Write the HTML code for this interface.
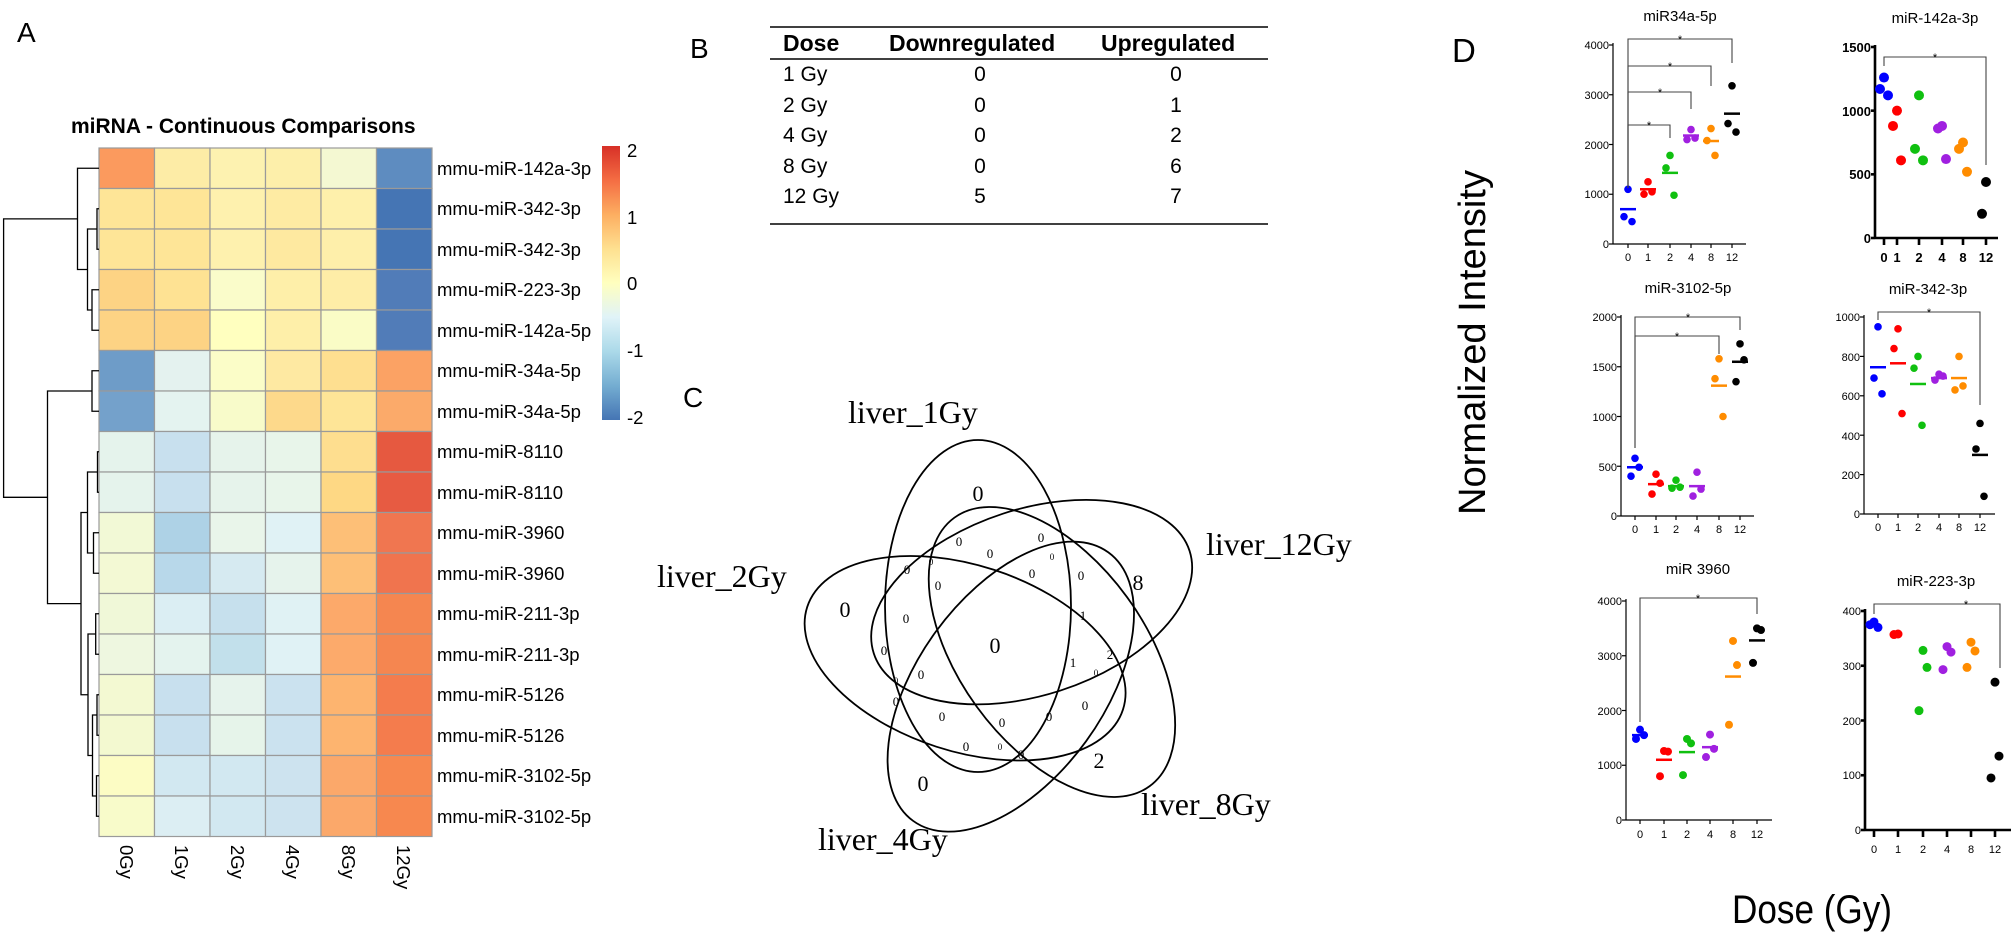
<!DOCTYPE html>
<html><head><meta charset="utf-8"><style>
html,body{margin:0;padding:0;background:#fff;}
svg{display:block;}
.s{font-family:"Liberation Sans",Arial,sans-serif;}
.r{font-family:"Liberation Serif","Times New Roman",serif;}
</style></head><body>
<svg id="m" width="2011" height="937" viewBox="0 0 2011 937" xmlns="http://www.w3.org/2000/svg">
<defs>
<linearGradient id="cb" x1="0" y1="1" x2="0" y2="0">
<stop offset="0" stop-color="#4575b4"/><stop offset="0.125" stop-color="#74add1"/><stop offset="0.25" stop-color="#abd9e9"/><stop offset="0.375" stop-color="#e0f3f8"/><stop offset="0.5" stop-color="#ffffbf"/><stop offset="0.625" stop-color="#fee090"/><stop offset="0.75" stop-color="#fdae61"/><stop offset="0.875" stop-color="#f46d43"/><stop offset="1" stop-color="#d73027"/>
</linearGradient>
</defs>
<!-- Panel A -->
<text class="s" x="17" y="42" font-size="28">A</text>
<text class="s" x="71" y="133" font-size="21" font-weight="bold">miRNA - Continuous Comparisons</text>
<g id="heat"></g>
<g id="dendro" stroke="#000" stroke-width="1.3" fill="none"></g>
<g class="s" font-size="18.5" fill="#000">
<text x="437" y="175">mmu-miR-142a-3p</text>
<text x="437" y="215">mmu-miR-342-3p</text>
<text x="437" y="256">mmu-miR-342-3p</text>
<text x="437" y="296">mmu-miR-223-3p</text>
<text x="437" y="337">mmu-miR-142a-5p</text>
<text x="437" y="377">mmu-miR-34a-5p</text>
<text x="437" y="418">mmu-miR-34a-5p</text>
<text x="437" y="458">mmu-miR-8110</text>
<text x="437" y="499">mmu-miR-8110</text>
<text x="437" y="539">mmu-miR-3960</text>
<text x="437" y="580">mmu-miR-3960</text>
<text x="437" y="620">mmu-miR-211-3p</text>
<text x="437" y="661">mmu-miR-211-3p</text>
<text x="437" y="701">mmu-miR-5126</text>
<text x="437" y="742">mmu-miR-5126</text>
<text x="437" y="782">mmu-miR-3102-5p</text>
<text x="437" y="823">mmu-miR-3102-5p</text>
</g>
<g class="s" font-size="18.5">
<text transform="translate(120,845) rotate(90)">0Gy</text>
<text transform="translate(175,845) rotate(90)">1Gy</text>
<text transform="translate(231,845) rotate(90)">2Gy</text>
<text transform="translate(286,845) rotate(90)">4Gy</text>
<text transform="translate(342,845) rotate(90)">8Gy</text>
<text transform="translate(397,845) rotate(90)">12Gy</text>
</g>
<rect x="602" y="146" width="18" height="274" fill="url(#cb)"/>
<g class="s" font-size="18.5">
<text x="627" y="157">2</text><text x="627" y="224">1</text><text x="627" y="290">0</text><text x="627" y="357">-1</text><text x="627" y="424">-2</text>
</g>

<!-- Panel B -->
<text class="s" x="690" y="58" font-size="28">B</text>
<g stroke="#000" stroke-width="1.6"><line x1="770" y1="27" x2="1268" y2="27"/><line x1="770" y1="59" x2="1268" y2="59"/><line x1="770" y1="224" x2="1268" y2="224"/></g>
<g class="s" font-size="23" font-weight="bold"><text x="783" y="51">Dose</text><text x="889" y="51">Downregulated</text><text x="1101" y="51">Upregulated</text></g>
<g class="s" font-size="21">
<text x="783" y="81">1 Gy</text><text x="783" y="112">2 Gy</text><text x="783" y="142">4 Gy</text><text x="783" y="173">8 Gy</text><text x="783" y="203">12 Gy</text>
</g>
<g class="s" font-size="21" text-anchor="middle">
<text x="980" y="81">0</text><text x="980" y="112">0</text><text x="980" y="142">0</text><text x="980" y="173">0</text><text x="980" y="203">5</text>
<text x="1176" y="81">0</text><text x="1176" y="112">1</text><text x="1176" y="142">2</text><text x="1176" y="173">6</text><text x="1176" y="203">7</text>
</g>

<!-- Panel C -->
<text class="s" x="683" y="407" font-size="28">C</text>
<g fill="none" stroke="#000" stroke-width="1.8">
<ellipse cx="978" cy="606" rx="93" ry="166"/>
<ellipse cx="978" cy="606" rx="93" ry="166" transform="rotate(72 1007.5 641)"/>
<ellipse cx="978" cy="606" rx="93" ry="166" transform="rotate(144 1007.5 641)"/>
<ellipse cx="978" cy="606" rx="93" ry="166" transform="rotate(216 1007.5 641)"/>
<ellipse cx="978" cy="606" rx="93" ry="166" transform="rotate(288 1007.5 641)"/>
</g>
<g class="r" font-size="32">
<text x="848" y="423">liver_1Gy</text><text x="657" y="587">liver_2Gy</text><text x="1206" y="555">liver_12Gy</text><text x="1141" y="815">liver_8Gy</text><text x="818" y="850">liver_4Gy</text>
</g>
<g class="r" font-size="22" text-anchor="middle">
<text x="978" y="501">0</text><text x="1138" y="590">8</text><text x="845" y="617">0</text><text x="995" y="653">0</text><text x="1099" y="768">2</text><text x="923" y="791">0</text>
</g>
<g class="r" font-size="13" text-anchor="middle">
<text x="959" y="546">0</text><text x="1041" y="542">0</text><text x="990" y="558">0</text><text x="907" y="574">0</text><text x="1032" y="578">0</text><text x="1081" y="580">0</text><text x="938" y="590">0</text><text x="906" y="623">0</text><text x="1083" y="620">1</text><text x="884" y="655">0</text><text x="1110" y="659">2</text><text x="1073" y="667">1</text><text x="921" y="679">0</text><text x="896" y="706">0</text><text x="1085" y="710">0</text><text x="942" y="721">0</text><text x="1002" y="727">0</text><text x="1049" y="721">0</text><text x="966" y="751">0</text><text x="1021" y="759">0</text>
</g>
<g class="r" font-size="9" text-anchor="middle">
<text x="1052" y="560">0</text><text x="931" y="565">0</text><text x="1096" y="676">0</text><text x="896" y="684">0</text><text x="1000" y="750">0</text>
</g>

<!-- Panel D -->
<text class="s" x="1452" y="62" font-size="33">D</text>
<text class="s" font-size="38" transform="translate(1485,515) rotate(-90)" textLength="345" lengthAdjust="spacingAndGlyphs">Normalized Intensity</text>
<text class="s" x="1732" y="923" font-size="40" textLength="160" lengthAdjust="spacingAndGlyphs">Dose (Gy)</text>
<g class="s" font-size="15" text-anchor="middle">
<text x="1680" y="21">miR34a-5p</text><text x="1935" y="23">miR-142a-3p</text>
<text x="1688" y="293">miR-3102-5p</text><text x="1928" y="294">miR-342-3p</text>
<text x="1698" y="574">miR 3960</text><text x="1936" y="586">miR-223-3p</text>
</g>
<g id="plots"></g>
<g class="s" font-size="11" text-anchor="end">
<text x="1609" y="49">4000</text><text x="1609" y="99">3000</text><text x="1609" y="149">2000</text><text x="1609" y="198">1000</text><text x="1609" y="248">0</text>
<text x="1617" y="321">2000</text><text x="1617" y="371">1500</text><text x="1617" y="421">1000</text><text x="1617" y="471">500</text><text x="1617" y="520">0</text>
<text x="1860" y="321">1000</text><text x="1860" y="361">800</text><text x="1860" y="400">600</text><text x="1860" y="440">400</text><text x="1860" y="479">200</text><text x="1860" y="518">0</text>
<text x="1622" y="605">4000</text><text x="1622" y="660">3000</text><text x="1622" y="715">2000</text><text x="1622" y="769">1000</text><text x="1622" y="824">0</text>
<text x="1861" y="615">400</text><text x="1861" y="670">300</text><text x="1861" y="725">200</text><text x="1861" y="779">100</text><text x="1861" y="834">0</text>
</g>
<g class="s" font-size="13" font-weight="bold" text-anchor="end">
<text x="1871" y="52">1500</text><text x="1871" y="116">1000</text><text x="1871" y="179">500</text><text x="1871" y="243">0</text>
</g>
<g class="s" font-size="11" text-anchor="middle">
<text x="1628" y="261">0</text><text x="1648" y="261">1</text><text x="1670" y="261">2</text><text x="1691" y="261">4</text><text x="1711" y="261">8</text><text x="1732" y="261">12</text>
<text x="1635" y="533">0</text><text x="1656" y="533">1</text><text x="1676" y="533">2</text><text x="1697" y="533">4</text><text x="1719" y="533">8</text><text x="1740" y="533">12</text>
<text x="1878" y="531">0</text><text x="1898" y="531">1</text><text x="1918" y="531">2</text><text x="1939" y="531">4</text><text x="1959" y="531">8</text><text x="1980" y="531">12</text>
<text x="1640" y="838">0</text><text x="1664" y="838">1</text><text x="1687" y="838">2</text><text x="1710" y="838">4</text><text x="1733" y="838">8</text><text x="1757" y="838">12</text>
<text x="1874" y="853">0</text><text x="1898" y="853">1</text><text x="1923" y="853">2</text><text x="1947" y="853">4</text><text x="1971" y="853">8</text><text x="1995" y="853">12</text>
</g>
<g class="s" font-size="13" font-weight="bold" text-anchor="middle">
<text x="1884" y="262">0</text><text x="1897" y="262">1</text><text x="1919" y="262">2</text><text x="1942" y="262">4</text><text x="1963" y="262">8</text><text x="1986" y="262">12</text>
</g>
<g class="s" font-size="11" text-anchor="middle">
<text x="1680" y="43">*</text><text x="1670" y="70">*</text><text x="1660" y="96">*</text><text x="1649" y="129">*</text>
<text x="1935" y="61">*</text>
<text x="1688" y="321">*</text><text x="1677" y="340">*</text>
<text x="1929" y="316">*</text>
<text x="1698" y="602">*</text>
<text x="1966" y="608">*</text>
</g>
</svg>
<script>
(function(){
var NS="http://www.w3.org/2000/svg";
function el(p,t,a){var e=document.createElementNS(NS,t);for(var k in a)e.setAttribute(k,a[k]);p.appendChild(e);return e;}
var H=[["#fb9a5e","#fdeca6","#fdf2b0","#fdefaa","#f4f8d2","#5e8cc0"],
["#fee597","#fee597","#fef1ae","#feeba3","#fef0ab","#4575b4"],
["#fee597","#fee597","#fef1ae","#fee9a0","#feefaa","#4575b4"],
["#fdd384","#fee293","#fafcca","#feefa9","#feeda7","#517cb8"],
["#fdd384","#fdd384","#ffffbf","#feefa9","#fafcc6","#517cb8"],
["#6e9cc8","#e4f2ef","#fbfdc8","#fee9a2","#fedf90","#fba264"],
["#74a1cb","#e4f3f0","#f8fbca","#fdd98b","#fee597","#fbaa6a"],
["#e5f3ec","#c8e0ee","#e6f3eb","#e8f5ea","#fede8f","#e65940"],
["#e5f3ec","#c8e0ee","#e6f3eb","#e8f5ea","#fed884","#e75b42"],
["#f2f9d6","#aed2e6","#e9f5ea","#e0f2f5","#fdbf77","#f07650"],
["#f3f9d4","#b8d8ea","#d6eaf1","#e6f3ec","#fdbf77","#f0744e"],
["#f0f8d8","#dbeef3","#c6e0ed","#e0f2f4","#fca96a","#f58650"],
["#eef7e0","#e4f3ee","#c2e0eb","#e0f2f5","#fcaa6b","#f58650"],
["#f3f9d2","#c8e0ee","#e6f3ec","#cbe2ef","#fdb46f","#f47c4d"],
["#f3f9d0","#c8e0ee","#e6f4ea","#cbe2ef","#fdb46f","#f47c4d"],
["#fcfcc4","#d2e8f1","#d2e8f1","#cde3ef","#fba86a","#f7884f"],
["#f8fbca","#dceef3","#d2e8f1","#cde3ef","#fba86a","#f7884f"]];
var g=document.getElementById("heat"),x0=99,y0=148,cw=55.5,rh=40.5;
for(var i=0;i<17;i++)for(var j=0;j<6;j++)el(g,"rect",{x:x0+j*cw,y:y0+i*rh,width:cw,height:rh,fill:H[i][j],stroke:"#9a9a9a","stroke-width":1.2});
var d=document.getElementById("dendro");
function yc(i){return y0+rh*(i-0.5);}
function link(xa,ya,xb,yb,xj){el(d,"path",{d:"M"+xa+" "+ya+"H"+xj+"V"+yb+"H"+xb});return (ya+yb)/2;}
var L=99;
var n23=link(L,yc(2),L,yc(3),97);
var n45=link(L,yc(4),L,yc(5),92);
var n25=link(97,n23,92,n45,87.5);
var n15=link(L,yc(1),87.5,n25,77.5);
var n67=link(L,yc(6),L,yc(7),92);
var n89=link(L,yc(8),L,yc(9),97.5);
var n1011=link(L,yc(10),L,yc(11),93.5);
var n1213=link(L,yc(12),L,yc(13),95.7);
var n1415=link(L,yc(14),L,yc(15),97);
var n1617=link(L,yc(16),L,yc(17),96.5);
var n1417=link(97,n1415,96.5,n1617,92.5);
var n1217=link(95.7,n1213,92.5,n1417,88);
var n811=link(97.5,n89,93.5,n1011,87.5);
var n817=link(87.5,n811,88,n1217,81);
var n617=link(92,n67,81,n817,47.5);
link(77.5,n15,47.5,n617,3.6);
var P=document.getElementById("plots");
var C=["#0000ff","#ff0000","#10c010","#a020e0","#ff8c00","#000000"];
function plot(o){
 var sw=o.bold?2.6:1.2;
 var yA=function(v){return o.y0-(v/o.vmax)*(o.y0-o.yT);};
 el(P,"line",{x1:o.ax,y1:o.yT-2,x2:o.ax,y2:o.y0,stroke:"#000","stroke-width":sw});
 el(P,"line",{x1:o.ax,y1:o.y0,x2:o.xe,y2:o.y0,stroke:"#000","stroke-width":sw});
 for(var k=0;k<=o.nt;k++){var yy=yA(o.vmax*k/o.nt);el(P,"line",{x1:o.ax-4,y1:yy,x2:o.ax,y2:yy,stroke:"#000","stroke-width":sw});}
 o.tx.forEach(function(x){el(P,"line",{x1:x,y1:o.y0,x2:x,y2:o.y0+(o.bold?7:4),stroke:"#000","stroke-width":sw});});
 o.data.forEach(function(arr,gi){var off=[0,-4,4];arr.forEach(function(v,pi){el(P,"circle",{cx:o.tx[gi]+(arr.length>1?off[pi%3]:0),cy:yA(v),r:o.r,fill:C[gi]});});
  if(o.means&&o.means[gi]!=null){var m=yA(o.means[gi]);el(P,"line",{x1:o.tx[gi]-8,y1:m,x2:o.tx[gi]+8,y2:m,stroke:C[gi],"stroke-width":2.5});}});
 (o.br||[]).forEach(function(b){el(P,"path",{d:"M"+b[0]+" "+b[3]+"V"+b[2]+"H"+b[1]+"V"+b[4],fill:"none",stroke:"#444","stroke-width":1.1});});
}
plot({ax:1613,yT:45,y0:244,vmax:4000,nt:4,xe:1746,tx:[1628,1648,1670,1691,1711,1732],r:3.8,
 data:[[1100,550,450],[1250,1000,1050],[1780,1530,980],[2300,2100,2130],[2320,2080,1780],[3180,2420,2250]],
 means:[700,1100,1430,2180,2070,2620],
 br:[[1628,1732,39,188,63],[1628,1711,66,188,86],[1628,1691,92,188,109],[1628,1670,125,188,138]]});
plot({ax:1875,yT:47,y0:238,vmax:1500,nt:3,xe:1998,tx:[1884,1897,1919,1942,1963,1986],r:5,bold:1,
 data:[[1260,1170,1120],[1000,880,610],[1120,700,610],[880,860,620],[750,700,520],[440,190]],
 br:[[1884,1986,57,66,165]]});
plot({ax:1621,yT:317,y0:516,vmax:2000,nt:4,xe:1754,tx:[1635,1656,1676,1697,1719,1740],r:3.8,
 data:[[580,400,490],[420,220,330],[360,280,290],[440,200,270],[1580,1380,1000],[1730,1350,1570]],
 means:[490,320,300,300,1310,1550],
 br:[[1635,1740,317,448,330],[1635,1719,336,448,354]]});
plot({ax:1864,yT:317,y0:514,vmax:1000,nt:5,xe:1995,tx:[1878,1898,1918,1939,1959,1980],r:3.8,
 data:[[950,690,610],[940,840,510],[800,740,450],[710,680,700],[800,630,650],[460,330,90]],
 means:[745,765,660,690,690,300],
 br:[[1878,1980,312,320,405]]});
plot({ax:1626,yT:601,y0:820,vmax:4000,nt:4,xe:1772,tx:[1640,1664,1687,1710,1733,1757],r:4,
 data:[[1650,1480,1550],[1260,800,1250],[1480,820,1400],[1560,1150,1300],[3270,1740,2830],[3500,2870,3470]],
 means:[1550,1100,1240,1330,2620,3280],
 br:[[1640,1757,598,722,614]]});
plot({ax:1865,yT:611,y0:830,vmax:400,nt:4,xe:2011,tx:[1874,1898,1923,1947,1971,1995],r:4.5,bold:1,
 data:[[380,375,370],[358,357],[328,218,297],[335,293,325],[343,297,327],[270,95,135]],
 br:[[1874,2000,604,614,668]]});
})();
</script>
</body></html>
